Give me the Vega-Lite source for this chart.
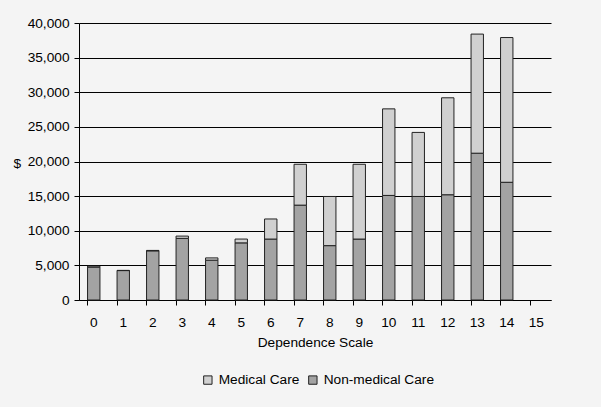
{
  "$schema": "https://vega.github.io/schema/vega-lite/v6.json",
  "autosize": {"type": "none"},
  "width": 472,
  "height": 277,
  "padding": {"left": 79, "top": 23, "right": 50, "bottom": 107},
  "background": "#f4f4f4",
  "config": {
    "font": "Liberation Sans",
    "view": {"stroke": null},
    "axis": {"labelFont": "Liberation Sans", "titleFont": "Liberation Sans", "labelColor": "#000", "titleColor": "#000", "labelFontSize": 13.7, "titleFontSize": 13.7, "titleFontWeight": "normal", "domainColor": "#000", "tickColor": "#000", "gridColor": "#000", "gridOpacity": 1}
  },
  "data": {
    "values": [
      {"scale": 0, "type": "Non-medical Care", "cost": 4750},
      {"scale": 0, "type": "Medical Care", "cost": 150},
      {"scale": 1, "type": "Non-medical Care", "cost": 4250},
      {"scale": 1, "type": "Medical Care", "cost": 30},
      {"scale": 2, "type": "Non-medical Care", "cost": 7100},
      {"scale": 2, "type": "Medical Care", "cost": 60},
      {"scale": 3, "type": "Non-medical Care", "cost": 8900},
      {"scale": 3, "type": "Medical Care", "cost": 330},
      {"scale": 4, "type": "Non-medical Care", "cost": 5750},
      {"scale": 4, "type": "Medical Care", "cost": 330},
      {"scale": 5, "type": "Non-medical Care", "cost": 8250},
      {"scale": 5, "type": "Medical Care", "cost": 550},
      {"scale": 6, "type": "Non-medical Care", "cost": 8800},
      {"scale": 6, "type": "Medical Care", "cost": 2900},
      {"scale": 7, "type": "Non-medical Care", "cost": 13700},
      {"scale": 7, "type": "Medical Care", "cost": 5900},
      {"scale": 8, "type": "Non-medical Care", "cost": 7850},
      {"scale": 8, "type": "Medical Care", "cost": 7100},
      {"scale": 9, "type": "Non-medical Care", "cost": 8800},
      {"scale": 9, "type": "Medical Care", "cost": 10800},
      {"scale": 10, "type": "Non-medical Care", "cost": 15100},
      {"scale": 10, "type": "Medical Care", "cost": 12500},
      {"scale": 11, "type": "Non-medical Care", "cost": 14950},
      {"scale": 11, "type": "Medical Care", "cost": 9250},
      {"scale": 12, "type": "Non-medical Care", "cost": 15200},
      {"scale": 12, "type": "Medical Care", "cost": 14000},
      {"scale": 13, "type": "Non-medical Care", "cost": 21200},
      {"scale": 13, "type": "Medical Care", "cost": 17200},
      {"scale": 14, "type": "Non-medical Care", "cost": 17000},
      {"scale": 14, "type": "Medical Care", "cost": 20900}
    ]
  },
  "mark": {"type": "bar", "stroke": "#222", "strokeWidth": 1},
  "encoding": {
    "x": {
      "field": "scale", "type": "ordinal",
      "scale": {"domain": [0,1,2,3,4,5,6,7,8,9,10,11,12,13,14,15], "paddingInner": 0.58, "paddingOuter": 0.29},
      "axis": {"title": "Dependence Scale", "labelAngle": 0, "bandPosition": 0, "tickSize": 5, "labelPadding": 10, "titlePadding": 7, "domainWidth": 1}
    },
    "y": {
      "field": "cost", "type": "quantitative", "aggregate": "sum", "stack": "zero",
      "scale": {"domain": [0, 40000], "nice": false},
      "axis": {"title": "$", "titleAngle": 0, "titleAlign": "left", "titleBaseline": "middle", "titleX": -66, "titleY": 140, "values": [0,5000,10000,15000,20000,25000,30000,35000,40000], "format": ",d", "tickSize": 5, "labelPadding": 5, "grid": true}
    },
    "color": {
      "field": "type", "type": "nominal",
      "scale": {"domain": ["Medical Care", "Non-medical Care"], "range": ["#d0d0d0", "#a3a3a3"]},
      "legend": {"title": null, "orient": "none", "direction": "horizontal", "legendX": 122, "legendY": 350, "symbolType": "square", "symbolSize": 70, "symbolStrokeColor": "#222", "symbolStrokeWidth": 1, "labelFontSize": 13.7, "labelFont": "Liberation Sans", "labelColor": "#000", "columnPadding": 6, "symbolOffset": 0}
    },
    "order": {"field": "type", "sort": "descending"}
  }
}
